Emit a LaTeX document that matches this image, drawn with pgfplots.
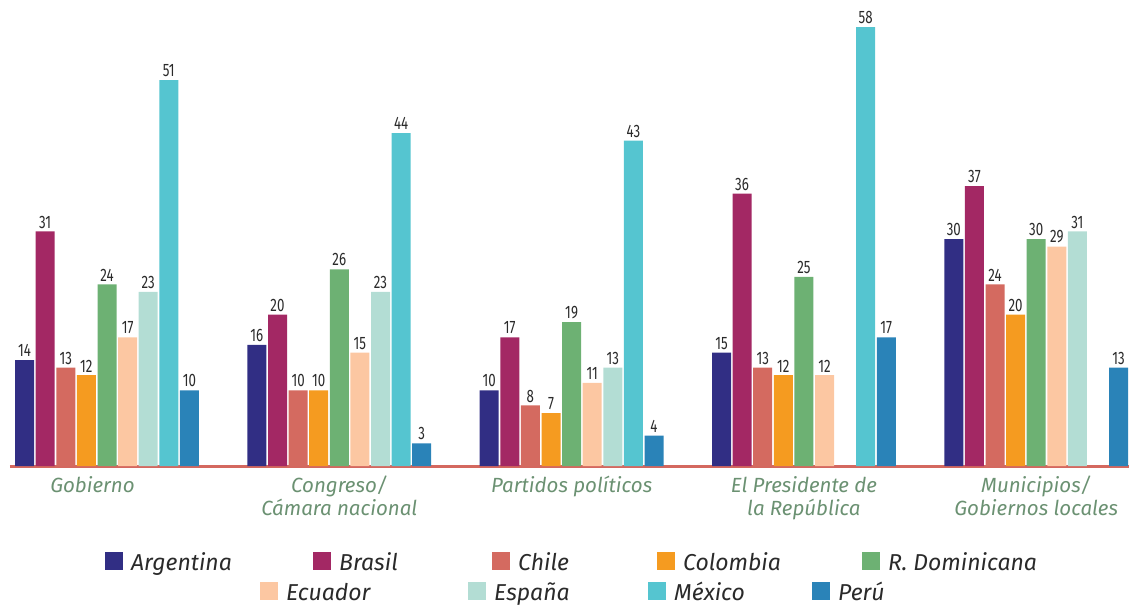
\documentclass[border=0pt]{standalone}
\usepackage{pgfplots}
\pgfplotsset{compat=1.18}
\usepackage{fontspec}
\setmainfont{Fira Sans}
\newfontfamily\numfont[FakeStretch=0.74]{Fira Sans}

\definecolor{cArg}{HTML}{312E84}
\definecolor{cBra}{HTML}{A32864}
\definecolor{cChi}{HTML}{D46A60}
\definecolor{cCol}{HTML}{F59B20}
\definecolor{cRD}{HTML}{6DB173}
\definecolor{cEcu}{HTML}{FCC7A2}
\definecolor{cEsp}{HTML}{B3DDD4}
\definecolor{cMex}{HTML}{55C5D0}
\definecolor{cPer}{HTML}{2A83B8}
\definecolor{cAxis}{HTML}{D4685F}
\definecolor{cLab}{HTML}{6B9172}
\definecolor{cTxt}{HTML}{2A2A2A}

\begin{document}
\begin{tikzpicture}
\path[use as bounding box] (0,0) rectangle (1129pt,606pt);
\begin{axis}[
    at={(10pt,140pt)}, anchor=south west,
    scale only axis,
    width=1119pt, height=454pt,
    ybar=1.6pt, bar width=19pt,
    xmin=-0.4176, xmax=4.3994,
    ymin=0, ymax=60,
    axis x line=bottom,
    x axis line style={-, line width=3pt, cAxis},
    hide y axis,
    xtick={0,1,2,3,4},
    xticklabels={Gobierno\hspace*{29pt}, Congreso/\\Cámara nacional, Partidos políticos, El Presidente de\\la República, Municipios/\\Gobiernos locales},
    major tick length=0pt,
    xticklabel style={font=\fontsize{20.5}{23}\selectfont\itshape, text=cLab, align=center, inner sep=0pt, yshift=-10pt},
    every axis plot/.append style={draw=none},
    /pgf/number format/assume math mode=true,
    nodes near coords,
    every node near coord/.append style={font=\numfont\fontsize{18}{20}\selectfont, text=cTxt, inner sep=0pt, anchor=south, yshift=3pt},
]
% Argentina
\addplot[fill=cArg] coordinates {(0,14)(1,16)(2,10)(3,15)(4,30)};
% Brasil
\addplot[fill=cBra] coordinates {(0,31)(1,20)(2,17)(3,36)(4,37)};
% Chile
\addplot[fill=cChi] coordinates {(0,13)(1,10)(2,8)(3,13)(4,24)};
% Colombia
\addplot[fill=cCol] coordinates {(0,12)(1,10)(2,7)(3,12)(4,20)};
% R. Dominicana
\addplot[fill=cRD] coordinates {(0,24)(1,26)(2,19)(3,25)(4,30)};
% Ecuador
\addplot[fill=cEcu] coordinates {(0,17)(1,15)(2,11)(3,12)(4,29)};
% España
\addplot[fill=cEsp] coordinates {(0,23)(1,23)(2,13)(4,31)};
% México
\addplot[fill=cMex] coordinates {(0,51)(1,44)(2,43)(3,58)};
% Perú
\addplot[fill=cPer] coordinates {(0,10)(1,3)(2,4)(3,17)(4,13)};
\end{axis}

% legend
\begin{scope}[every node/.style={anchor=base west, inner sep=0pt, text=cTxt, font=\fontsize{23}{25}\selectfont\itshape}]
\fill[cArg] (105pt,36pt) rectangle ++(18pt,18pt); \node at (131pt,36pt) {Argentina};
\fill[cBra] (313pt,36pt) rectangle ++(18pt,18pt); \node at (339pt,36pt) {Brasil};
\fill[cChi] (492pt,36pt) rectangle ++(18pt,18pt); \node at (518pt,36pt) {Chile};
\fill[cCol] (657pt,36pt) rectangle ++(18pt,18pt); \node at (683pt,36pt) {Colombia};
\fill[cRD]  (862pt,36pt) rectangle ++(18pt,18pt); \node at (888pt,36pt) {R. Dominicana};
\fill[cEcu] (260pt,6pt) rectangle ++(18pt,18pt); \node at (286pt,6pt) {Ecuador};
\fill[cEsp] (468pt,6pt) rectangle ++(18pt,18pt); \node at (494pt,6pt) {España};
\fill[cMex] (648pt,6pt) rectangle ++(18pt,18pt); \node at (674pt,6pt) {México};
\fill[cPer] (812pt,6pt) rectangle ++(18pt,18pt); \node at (838pt,6pt) {Perú};
\end{scope}
\end{tikzpicture}
\end{document}
